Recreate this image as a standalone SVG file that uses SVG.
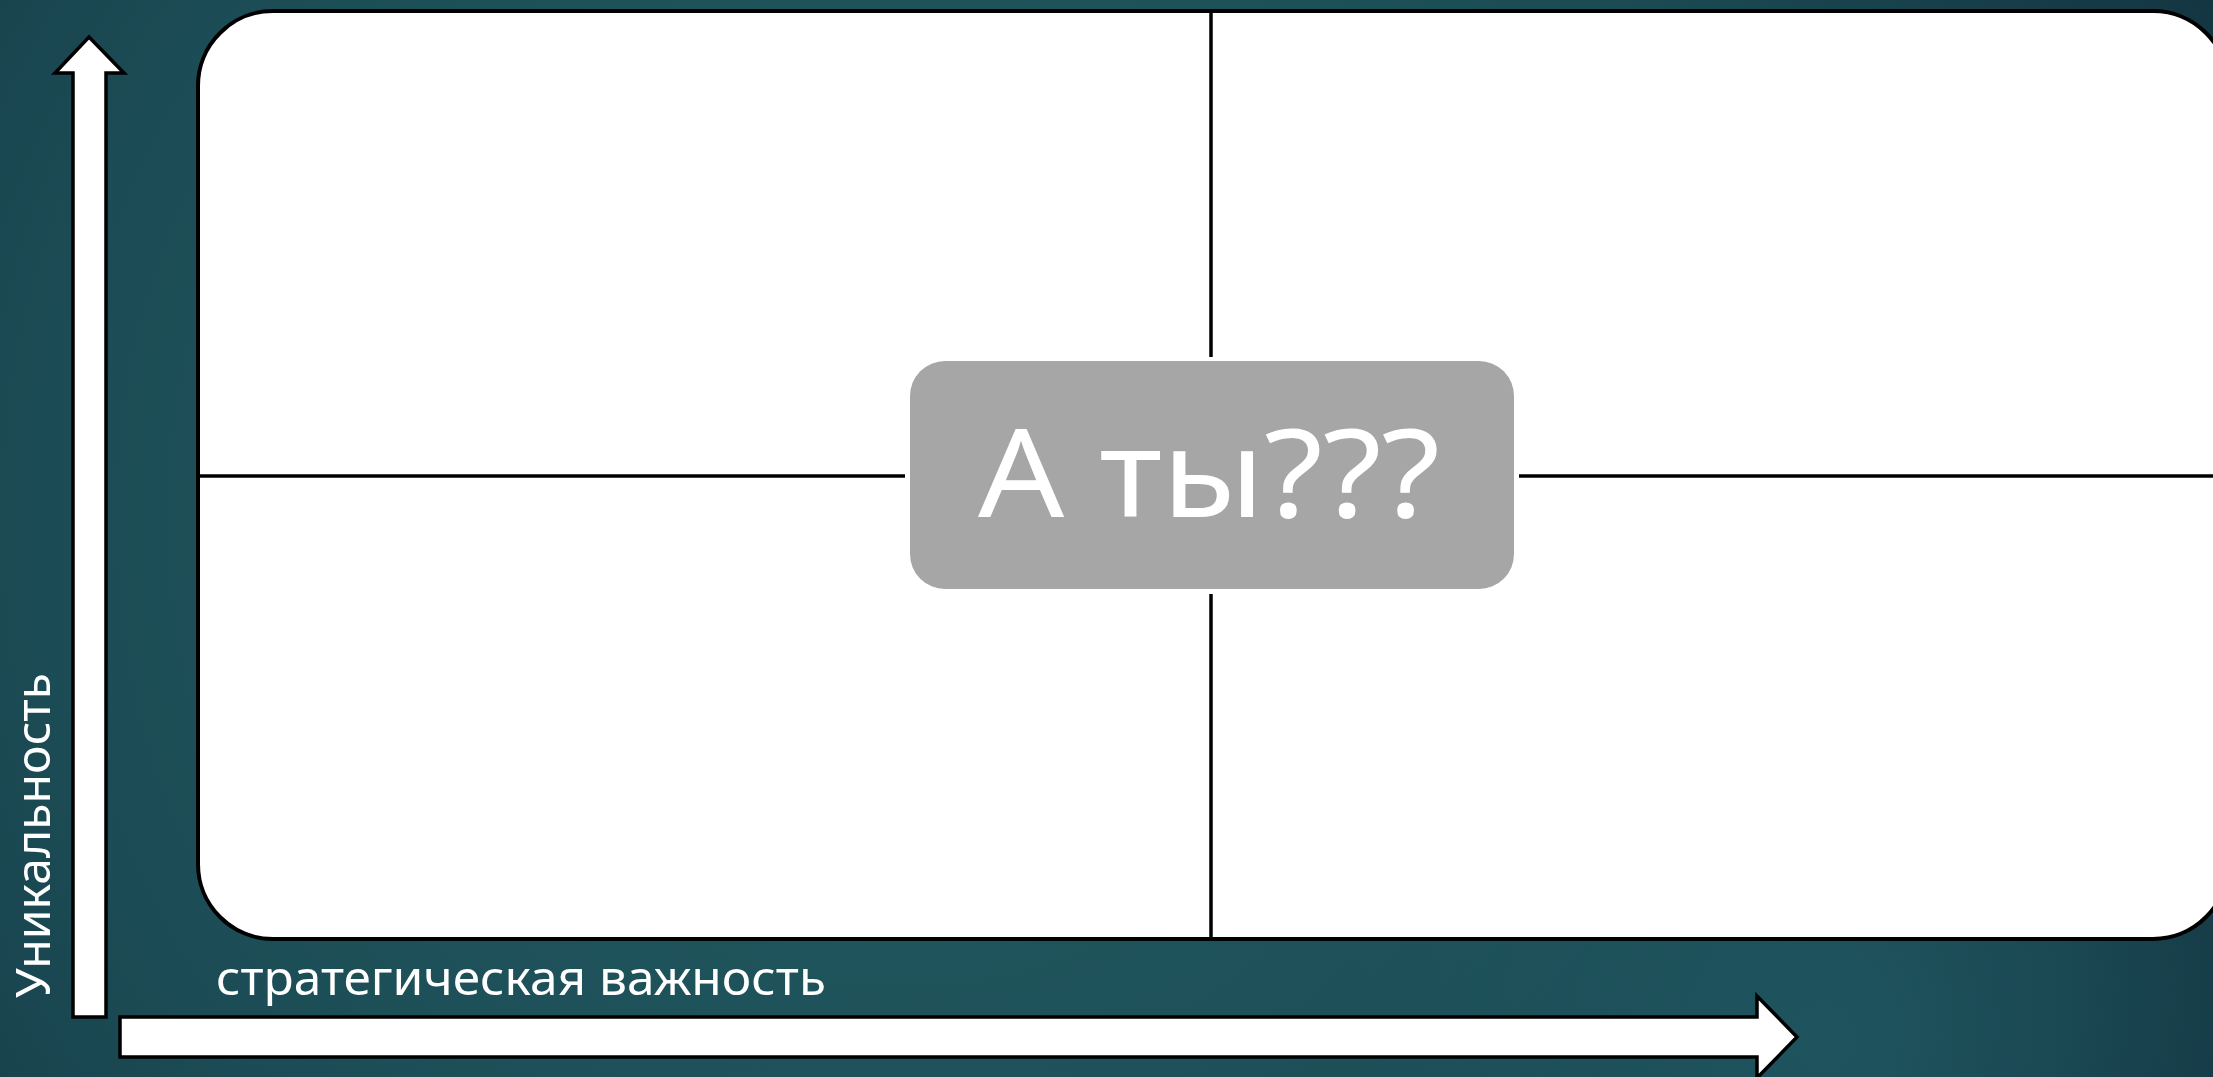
<svg xmlns="http://www.w3.org/2000/svg" width="2213" height="1077" viewBox="0 0 2213 1077">
<defs>
<radialGradient id="bg" cx="900" cy="520" r="1500" gradientUnits="userSpaceOnUse">
<stop offset="0" stop-color="#235b61"/>
<stop offset="0.55" stop-color="#1c4d56"/>
<stop offset="1" stop-color="#12323f"/>
</radialGradient>
<radialGradient id="glow" cx="1830" cy="1040" r="500" gradientUnits="userSpaceOnUse">
<stop offset="0" stop-color="#1f5660" stop-opacity="0.9"/>
<stop offset="1" stop-color="#1f5660" stop-opacity="0"/>
</radialGradient>
<style>
.arrow{fill:#ffffff;stroke:#000000;stroke-width:3.5;stroke-linejoin:miter}
.qline{stroke:#000000;stroke-width:3.5;fill:none}
.lbl{font-family:"Noto Sans","Liberation Sans",sans-serif;fill:#ffffff;font-size:48px}
.big{font-family:"Noto Sans","Liberation Sans",sans-serif;fill:#ffffff;font-size:122px}
</style>
</defs>
<rect x="0" y="0" width="2213" height="1077" fill="url(#bg)"/>
<rect x="0" y="0" width="2213" height="1077" fill="url(#glow)"/>
<g id="matrix">
<rect x="198" y="11" width="2030" height="928" rx="75" ry="75" fill="#ffffff" stroke="#000000" stroke-width="4"/>
</g>
<g id="connectors">
<line class="qline" x1="198" y1="476" x2="905" y2="476"/>
<line class="qline" x1="1519" y1="476" x2="2228" y2="476"/>
<line class="qline" x1="1211" y1="11" x2="1211" y2="357"/>
<line class="qline" x1="1211" y1="594" x2="1211" y2="939"/>
</g>
<g id="y-axis">
<polygon class="arrow" points="89,37 124,73 106,73 106,1017 73,1017 73,73 55,73"/>
<text class="lbl" transform="translate(50,998) rotate(-90)" x="0" y="0" textLength="325" lengthAdjust="spacingAndGlyphs">Уникальность</text>
</g>
<g id="x-axis">
<polygon class="arrow" points="120,1017 1757,1017 1757,996 1797,1037 1757,1078 1757,1057 120,1057"/>
<text class="lbl" x="216" y="995" textLength="610" lengthAdjust="spacingAndGlyphs">стратегическая важность</text>
</g>
<g id="center">
<rect x="910" y="361" width="604" height="228" rx="35" ry="35" fill="#a6a6a6"/>
<text class="big" x="978" y="517" textLength="462" lengthAdjust="spacingAndGlyphs">А ты???</text>
</g>
</svg>
